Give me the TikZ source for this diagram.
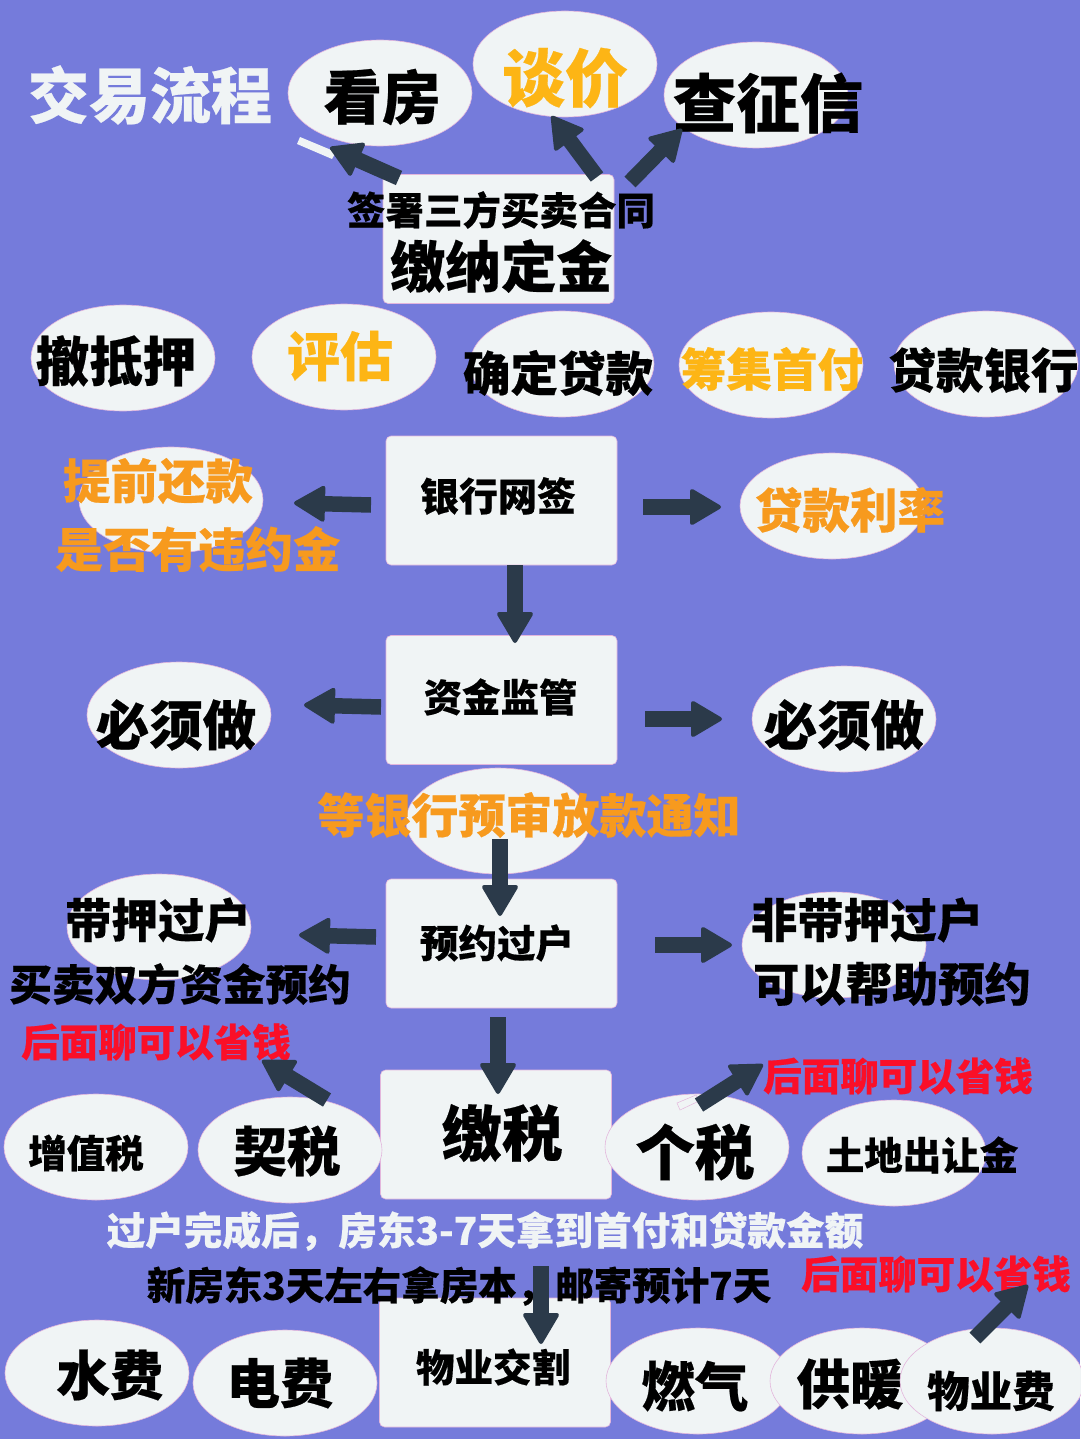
\documentclass[tikz,border=0pt]{standalone}
\usepackage{fontspec}
\setmainfont{Noto Sans CJK SC}[BoldFeatures={FakeBold=0.4}]
\usetikzlibrary{shapes.geometric,arrows.meta}
\definecolor{bgc}{HTML}{757BDB}
\definecolor{pale}{HTML}{F0F4F5}
\definecolor{edgec}{HTML}{E3B6DC}
\definecolor{dark}{HTML}{2B3A4A}
\definecolor{gold}{HTML}{FDB515}
\definecolor{ora}{HTML}{F79A1E}
\definecolor{redc}{HTML}{FA0F28}
\tikzset{
 oval/.style={ellipse,draw=edgec,line width=.6pt,fill=pale,minimum width=184pt,minimum height=106pt,inner sep=0pt},
 boxn/.style={rectangle,rounded corners=5pt,draw=edgec,line width=.6pt,fill=pale,minimum width=231pt,minimum height=129pt,inner sep=0pt},
 tx/.style={inner sep=0pt,font=\fontsize{#1}{#1}\selectfont\bfseries},
 barrow/.style={draw=dark,line width=15.5pt,-{Triangle[round,line width=4pt,length=33pt,width=38pt]}},
 strip/.style={draw=edgec,line width=.5pt,fill=pale}
}
\begin{document}
\begin{tikzpicture}[x=1pt,y=-1pt]
\useasboundingbox (0,0) rectangle (1080,1439);
\fill[bgc] (0,0) rectangle (1080,1439);
% top
\node[tx=61,text=pale] (title) at (150,95) {交易流程};
\node[oval] (e1) at (380,93) {};
\node[oval] (e2) at (565,64) {};
\node[oval] (e3) at (756,95) {};
\node[boxn] (b1) at (498.5,239) {};
\node[tx=58.5] (t1) at (382,97) {看房};
\node[tx=63,text=gold] (t2) at (565,78) {谈价};
\node[tx=63.5] (t3) at (768,103) {查征信};
\node[tx=38.5] (t4) at (501,210) {签署三方买卖合同};
\node[tx=55.5] (t5) at (501,266) {缴纳定金};
% row 2
\node[oval] (e4) at (123,358) {};
\node[oval] (e5) at (344,357) {};
\node[oval] (e6) at (562,364) {};
\node[oval] (e7) at (771,365) {};
\node[oval] (e8) at (986,364) {};
\node[tx=53.5] (t6) at (116,361) {撤抵押};
\node[tx=53,text=gold] (t7) at (340,356) {评估};
\node[tx=47.5] (t8) at (558,373) {确定贷款};
\node[tx=45.5,text=gold] (t9) at (772,369) {筹集首付};
\node[tx=47.5] (t10) at (983.5,370) {贷款银行};
% bank
\node[boxn] (b2) at (501.5,500.5) {};
\node[oval] (e9) at (171,500) {};
\node[oval] (e10) at (832,506) {};
\node[tx=39] (t11) at (498,496) {银行网签};
\node[tx=47.5,text=ora] (t12) at (158,481) {提前还款};
\node[tx=47.5,text=ora] (t13) at (198,549) {是否有违约金};
\node[tx=47.5,text=ora] (t14) at (850,510) {贷款利率};
% supervision
\node[boxn] (b3) at (501.5,700) {};
\node[oval] (e11) at (179,715) {};
\node[oval] (e12) at (844,719) {};
\node[tx=38.5] (t15) at (500.5,697) {资金监管};
\node[tx=53.5] (t16) at (176,725) {必须做};
\node[tx=53.5] (t17) at (844,725) {必须做};
\node[oval] (e13) at (498,821) {};
\node[tx=47,text=ora] (t18) at (529,815) {等银行预审放款通知};
% transfer
\node[boxn] (b4) at (501.5,943.5) {};
\node[oval] (e14) at (159,927) {};
\node[oval] (e15) at (834,945) {};
\node[tx=38.5] (t19) at (497,943) {预约过户};
\node[tx=46.5] (t20) at (158,920) {带押过户};
\node[tx=42.7] (t21) at (180,984) {买卖双方资金预约};
\node[tx=46.5] (t22) at (867,920) {非带押过户};
\node[tx=46.3] (t23) at (892,984) {可以帮助预约};
\node[tx=38.5,text=redc] (t24) at (156,1042) {后面聊可以省钱};
\node[tx=38.5,text=redc] (t25) at (898,1076) {后面聊可以省钱};
% tax
\node[boxn] (b5) at (496,1134.5) {};
\node[oval] (e16) at (96,1147) {};
\node[oval] (e17) at (290,1150) {};
\node[oval] (e18) at (697,1147) {};
\node[oval] (e19) at (894,1153) {};
\node[tx=38.5] (t26) at (86,1153) {增值税};
\node[tx=53.5] (t27) at (287,1151) {契税};
\node[tx=60.5] (t28) at (502,1133) {缴税};
\node[tx=59.5] (t29) at (695,1152) {个税};
\node[tx=38.5] (t30) at (922,1155) {土地出让金};
\node[tx=38.6,text=pale] (t31) at (485,1231) {过户完成后，房东3-7天拿到首付和贷款金额};
\node[boxn] (b6) at (495,1362.5) {};
\node[tx=38.5] (t32) at (459,1286) {新房东3天左右拿房本，邮寄预计7天};
\node[tx=38.5,text=redc] (t33) at (936,1274) {后面聊可以省钱};
% bottom
\node[oval] (e20) at (97,1373) {};
\node[oval] (e21) at (285,1383) {};
\node[oval] (e22) at (698,1381) {};
\node[tx=53.5] (t34) at (110,1375) {水费};
\node[tx=53.5] (t35) at (280,1383) {电费};
\node[tx=38.5] (t36) at (493,1367) {物业交割};
\node[tx=53.5] (t37) at (695,1386) {燃气};
\node[oval] (e23) at (862,1381) {};
\node[tx=53.5] (t38) at (850,1384) {供暖};
\node[oval] (e24) at (992,1381) {};
\node[tx=42.5] (t39) at (991,1391) {物业费};
% arrow ends
\coordinate (a1s) at (399,178); \coordinate (a1e) at (330,147.5);
\coordinate (a2s) at (597,177); \coordinate (a2e) at (551.5,116);
\coordinate (a3s) at (630,182); \coordinate (a3e) at (682,129);
\coordinate (a4s) at (371,505); \coordinate (a4e) at (294,503);
\coordinate (a5s) at (643,507); \coordinate (a5e) at (721,507);
\coordinate (a6s) at (515,565); \coordinate (a6e) at (515,643);
\coordinate (a7s) at (381,707); \coordinate (a7e) at (304,705);
\coordinate (a8s) at (645,719); \coordinate (a8e) at (722,719);
\coordinate (a9s) at (500,839); \coordinate (a9e) at (500,916);
\coordinate (a10s) at (376,937); \coordinate (a10e) at (299,935);
\coordinate (a11s) at (655,945); \coordinate (a11e) at (732,945);
\coordinate (a12s) at (498,1017); \coordinate (a12e) at (498,1094);
\coordinate (a13s) at (327,1100); \coordinate (a13e) at (262,1060.5);
\coordinate (a14s) at (699,1105); \coordinate (a14e) at (763,1064.5);
\coordinate (a15s) at (541,1266); \coordinate (a15e) at (541,1344);
\coordinate (a16s) at (975,1338); \coordinate (a16e) at (1028,1285);
% small strips
\fill[pale] (297,144) -- (300,137) -- (336,152) -- (332,159) -- cycle;
\draw[strip] (677,1103) -- (696,1095) -- (699,1101) -- (680,1110) -- cycle;
\foreach \i in {1,...,16} \draw[barrow] (a\i s) -- (a\i e);
\end{tikzpicture}
\end{document}
